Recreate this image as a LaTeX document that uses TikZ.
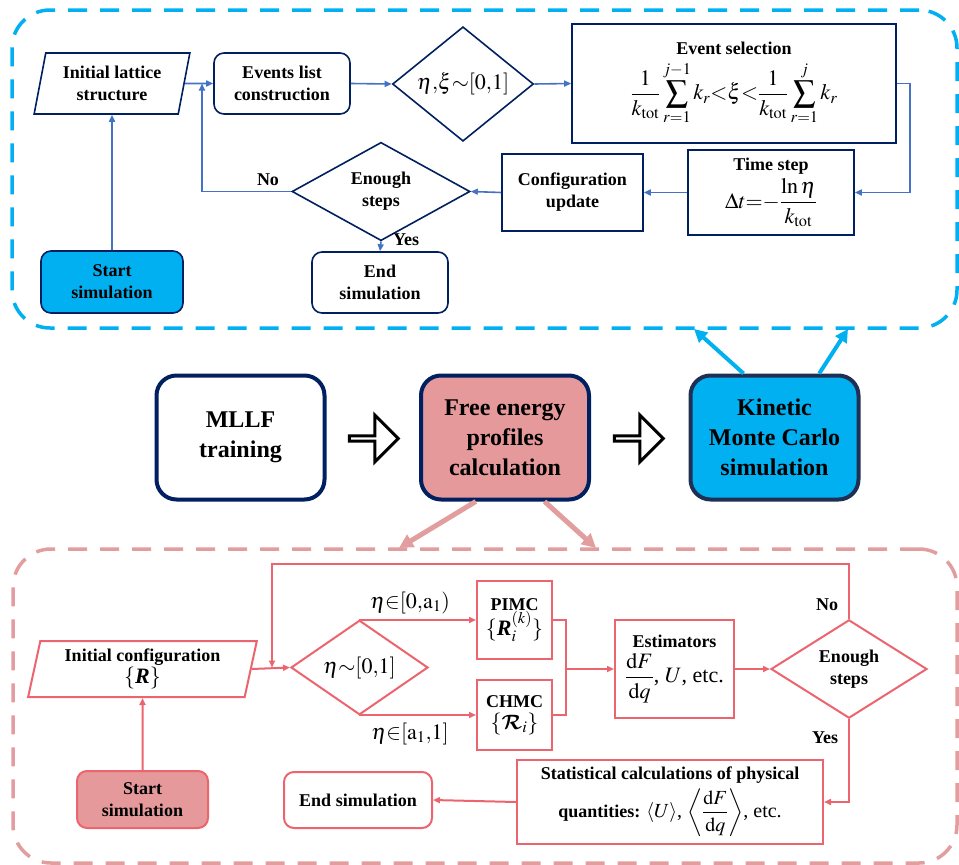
\documentclass[tikz,border=0pt]{standalone}
\usepackage{mathptmx}
\usepackage{amsmath}
\usepackage{fontspec}
\setmainfont{Liberation Serif}
\DeclareMathAlphabet{\mathbcal}{OMS}{cmsy}{b}{n}
\newcommand{\msz}{\fontsize{22}{26}\selectfont\mdseries}
\usetikzlibrary{shapes.geometric,shapes.arrows,arrows.meta,calc}
\definecolor{kmcblue}{RGB}{0,176,240}
\definecolor{navyline}{RGB}{0,32,96}
\definecolor{kmcedge}{RGB}{31,48,84}
\definecolor{flowblue}{RGB}{68,114,196}
\definecolor{fepink}{RGB}{229,153,154}
\definecolor{flowred}{RGB}{235,100,110}
\definecolor{dashpink}{RGB}{226,158,158}
\begin{document}
\begin{tikzpicture}[x=1pt,y=-1pt,
  font=\fontsize{18}{22}\selectfont\bfseries,
  frame/.style={line width=3.5pt, dash pattern=on 19pt off 13pt, rounded corners=38pt, inner sep=0pt},
  tbox/.style={draw=navyline, line width=1.6pt, align=center, inner sep=0pt},
  tround/.style={tbox, rounded corners=10pt},
  tdia/.style={diamond, draw=navyline, line width=1.6pt, align=center, inner sep=0pt},
  tpara/.style={trapezium, trapezium left angle=76, trapezium right angle=104, trapezium stretches=true, draw=navyline, line width=1.6pt, align=center, inner sep=0pt},
  tline/.style={draw=flowblue, line width=1.6pt},
  tarrow/.style={tline, -{Triangle[length=7pt,width=6pt]}},
  bbox/.style={draw=flowred, line width=2pt, align=center, inner sep=0pt},
  bround/.style={bbox, rounded corners=10pt},
  bdia/.style={diamond, draw=flowred, line width=2pt, align=center, inner sep=0pt},
  bpara/.style={trapezium, trapezium left angle=77, trapezium right angle=103, trapezium stretches=true, draw=flowred, line width=2pt, align=center, inner sep=0pt},
  bline/.style={draw=flowred, line width=2pt},
  barrow/.style={bline, -{Triangle[length=7pt,width=6pt]}},
  mainbox/.style={draw=navyline, line width=4pt, rounded corners=20pt, align=center, minimum width=168pt, minimum height=124pt, font=\fontsize{24}{30}\selectfont\bfseries},
  hollow/.style={single arrow, draw=black, fill=white, line width=3pt, inner sep=0pt, minimum width=47pt, minimum height=49pt, single arrow head extend=12pt},
  lbl/.style={inner sep=1pt}]
\useasboundingbox (0,0) rectangle (959,865);

\node[frame, draw=kmcblue, minimum width=945pt, minimum height=318pt] (kmcframe) at (484.5,169) {};
\node[frame, draw=dashpink, minimum width=944pt, minimum height=314pt] (feframe) at (485,706) {};

\node[tpara, minimum width=156pt, minimum height=61pt] (init) at (112,83.5) {Initial lattice\\structure};
\node[tround, minimum width=136pt, minimum height=61pt] (events) at (282,83.5) {Events list\\construction};
\node[tdia, minimum width=141pt, minimum height=92pt] (pick) at (463,84) {\msz$\eta{,}\xi{\sim}[0{,}1]$};
\node[tbox, minimum width=324pt, minimum height=119pt] (select) at (734,83.5) {Event selection\\[6pt] \msz$\displaystyle\frac{1}{k_{\mathrm{tot}}}\sum_{r=1}^{j-1}k_r{<}\xi{<}\frac{1}{k_{\mathrm{tot}}}\sum_{r=1}^{j}k_r$};
\node[tbox, minimum width=166pt, minimum height=85pt] (tstep) at (771,192.5) {Time step\\[3pt] \msz$\displaystyle\Delta t{=}{-}\frac{\ln\eta}{k_{\mathrm{tot}}}$};
\node[tbox, minimum width=141pt, minimum height=77pt] (update) at (572.5,192.5) {Configuration\\update};
\node[tdia, minimum width=178pt, minimum height=75pt] (enough) at (381,191.5) {Enough\\steps};
\node[tround, minimum width=136pt, minimum height=61pt] (endsim) at (380,282.5) {End\\simulation};
\node[tround, fill=kmcblue, minimum width=142pt, minimum height=62pt] (start) at (112,282) {Start\\simulation};
\coordinate (tloop) at (202,191.5);
\coordinate (tturn) at (910,83.5);

\draw[tarrow] (start.north) -- (init.south);
\draw[tarrow] (init.east) -- (events.west);
\draw[tarrow] (events.east) -- (pick.west);
\draw[tarrow] (pick.east) -- (select.west);
\draw[tarrow] (select.east) -- (tturn) |- (tstep.east);
\draw[tarrow] (tstep.west) -- (update.east);
\draw[tarrow] (update.west) -- (enough.east);
\draw[tarrow] (enough.west) -- (tloop) -- (tloop |- init.east);
\draw[tarrow] (enough.south) -- (endsim.north);
\node[lbl] (tno) at (268,180) {No};
\node[lbl] (tyes) at (406,240) {Yes};

\node[mainbox, fill=white] (mllf) at (240.5,437.5) {MLLF\\training};
\node[mainbox, fill=fepink] (fe) at (505,437.5) {Free energy\\profiles\\calculation};
\node[mainbox, draw=kmcedge, fill=kmcblue] (kmc) at (774.5,437.5) {Kinetic\\Monte Carlo\\simulation};
\node[hollow] (arr1) at (372.5,438.5) {};
\node[hollow] (arr2) at (637.5,438.5) {};
\coordinate (kup1) at (694,329);
\coordinate (kup2) at (848,329);
\coordinate (fdn1) at (399,548);
\coordinate (fdn2) at (596,548);
\draw[kmcblue, line width=4pt, -{Triangle[length=13pt,width=13pt]}] ($(kmc.north west)!0.32!(kmc.north east)$) -- (kup1);
\draw[kmcblue, line width=4pt, -{Triangle[length=13pt,width=13pt]}] ($(kmc.north west)!0.76!(kmc.north east)$) -- (kup2);
\draw[dashpink, line width=5pt, -{Triangle[length=14pt,width=14pt]}] ($(fe.south west)!0.33!(fe.south east)$) -- (fdn1);
\draw[dashpink, line width=5pt, -{Triangle[length=14pt,width=14pt]}] ($(fe.south west)!0.73!(fe.south east)$) -- (fdn2);

\node[bpara, minimum width=229pt, minimum height=56pt] (binit) at (142.5,669) {Initial configuration\\ \msz$\{\textbf{\textit{R}}\}$};
\node[bround, fill=fepink, minimum width=131pt, minimum height=57pt] (bstart) at (142.5,799.5) {Start\\simulation};
\node[bdia, minimum width=137pt, minimum height=69pt] (bpick) at (359.5,667.5) {\msz$\eta{\sim}[0{,}1]$};
\node[bbox, minimum width=75pt, minimum height=78pt] (pimc) at (514.5,620) {PIMC\\ \msz$\{\textbf{\textit{R}}_i^{(k)}\}$};
\node[bbox, minimum width=75pt, minimum height=70pt] (chmc) at (514.5,715) {CHMC\\ \msz$\{\mathbcal{R}_i\}$};
\node[bbox, minimum width=119pt, minimum height=98pt] (estim) at (674.5,669) {Estimators\\[4pt] \msz$\displaystyle\frac{\mathrm{d}F}{\mathrm{d}q}$, $U$, etc.};
\node[bdia, minimum width=156pt, minimum height=96pt] (benough) at (849,669) {Enough\\steps};
\node[bbox, minimum width=306pt, minimum height=84pt] (stat) at (670,802) {Statistical calculations of physical\\[4pt] quantities: {\fontsize{20}{24}\selectfont\mdseries$\langle U\rangle$, $\displaystyle\left\langle\frac{\mathrm{d}F}{\mathrm{d}q}\right\rangle$, etc.}};
\node[bround, minimum width=148pt, minimum height=56pt] (bend) at (358,800) {End simulation};
\coordinate (bloop) at (272,564);
\coordinate (bjoin) at (566,669);

\draw[barrow] (bstart.north) -- (binit.south);
\draw[barrow] (binit.east) -- (bpick.west);
\draw[barrow] (benough.north) |- (bloop) -- (bloop |- bpick.west);
\draw[barrow] (bpick.north) |- (pimc.west);
\draw[barrow] (bpick.south) |- (chmc.west);
\draw[bline] (pimc.east) -| (bjoin) |- (chmc.east);
\draw[barrow] (bjoin) -- (estim.west);
\draw[barrow] (estim.east) -- (benough.west);
\draw[barrow] (benough.south) |- (stat.east);
\draw[barrow] (stat.west) -- (bend.east);
\node[lbl, font=\msz] (bup) at (410,603) {$\eta{\in}[0{,}\mathrm{a}_1)$};
\node[lbl, font=\msz] (bdown) at (410,734) {$\eta{\in}[\mathrm{a}_1{,}1]$};
\node[lbl] (bno) at (827,605) {No};
\node[lbl] (byes) at (825,738) {Yes};
\end{tikzpicture}
\end{document}
